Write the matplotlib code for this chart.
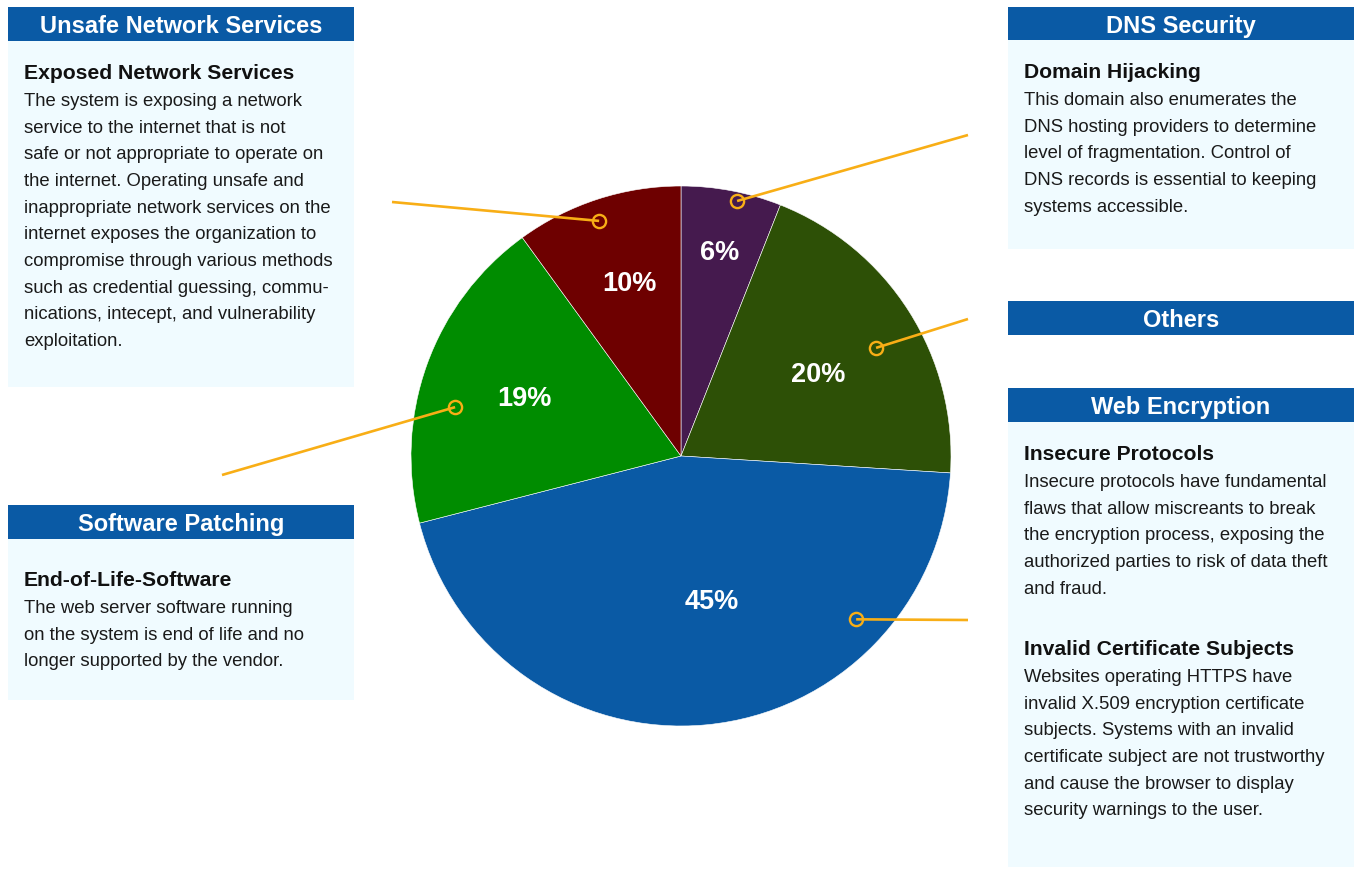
import numpy as np
import matplotlib
matplotlib.use("Agg")
import matplotlib.pyplot as plt
from matplotlib.patches import Rectangle

plt.rcParams["font.family"] = ["Liberation Sans", "DejaVu Sans"]

# ---- data -------------------------------------------------------------
categories = ["DNS Security", "Others", "Web Encryption",
              "Software Patching", "Unsafe Network Services"]
shares = [6, 20, 45, 19, 10]
pct_labels = ["6%", "20%", "45%", "19%", "10%"]
slice_colors = ["#451a4e", "#2d5006", "#0a5aa5", "#008c00", "#6e0000"]

# ---- styling ----------------------------------------------------------
W, H = 1356, 870
HEADER_BLUE = "#0a5aa5"
BODY_BG = "#f0fbff"
LEADER = "#f8ae16"
LINE_PITCH = 26.65

# label placement: radial fraction and angular nudge from the slice middle
label_dist = [0.77, 0.59, 0.55, 0.62, 0.67]
label_shift = [0.0, -1.6, 6.7, -0.6, -1.4]
# leader anchor inside each slice and the outer end of each leader
anchor_dist = [0.967, 0.826, 0.887, 0.856, 0.922]
anchor_shift = [-1.6, -3.4, 41.6, 7.6, 1.2]
leader_end = [(968, 136), (968, 320), (968, 621), (222, 476), (392, 203)]


def Y(y):
    return H - y


fig = plt.figure(figsize=(W / 100, H / 100), dpi=100)
ax = fig.add_axes([0, 0, 1, 1])

cx, cy, R = 681, Y(457), 270
wedges, _ = ax.pie(shares, colors=slice_colors, startangle=90,
                   counterclock=False, center=(cx, cy), radius=R,
                   wedgeprops=dict(edgecolor="#ffffff", linewidth=0.4))
ax.set_xlim(0, W)
ax.set_ylim(0, H)
ax.set_aspect("equal")
ax.axis("off")

for i, w in enumerate(wedges):
    mid = 0.5 * (w.theta1 + w.theta2)
    a = np.deg2rad(mid + label_shift[i])
    ax.text(cx + label_dist[i] * R * np.cos(a), cy + label_dist[i] * R * np.sin(a),
            pct_labels[i], color="white", fontsize=19.5, fontweight="bold",
            ha="center", va="center", zorder=5)
    b = np.deg2rad(mid + anchor_shift[i])
    px = cx + anchor_dist[i] * R * np.cos(b)
    py = cy + anchor_dist[i] * R * np.sin(b)
    ex, ey = leader_end[i]
    ax.plot([px, ex], [py, Y(ey)], color=LEADER, lw=1.9, zorder=6,
            solid_capstyle="butt")
    ax.plot([px], [py], marker="o", ms=9.5, mfc="none", mec=LEADER,
            mew=1.7, zorder=7)


def panel(x, top, w, header, header_h=34, body_bottom=None, sections=()):
    if body_bottom is not None:
        ax.add_patch(Rectangle((x, Y(body_bottom)), w, body_bottom - top,
                               facecolor=BODY_BG, edgecolor="none", zorder=1))
    ax.add_patch(Rectangle((x, Y(top + header_h)), w, header_h,
                           facecolor=HEADER_BLUE, edgecolor="none", zorder=2))
    ax.text(x + w / 2, Y(top + header_h / 2 + 1.5), header, color="white",
            fontsize=17, fontweight="bold", ha="center", va="center", zorder=3)
    for title, title_y, lines in sections:
        ax.text(x + 16, Y(title_y + 1.5), title, color="#111111", fontsize=15.2,
                fontweight="bold", ha="left", va="center", zorder=3)
        for k, line in enumerate(lines):
            ax.text(x + 16, Y(title_y + 29.5 + k * LINE_PITCH), line,
                    color="#1a1a1a", fontsize=13.3, ha="left", va="center",
                    zorder=3)


unsafe_lines = [
    "The system is exposing a network",
    "service to the internet that is not",
    "safe or not appropriate to operate on",
    "the internet. Operating unsafe and",
    "inappropriate network services on the",
    "internet exposes the organization to",
    "compromise through various methods",
    "such as credential guessing, commu-",
    "nications, intecept, and vulnerability",
    "exploitation.",
]
patching_lines = [
    "The web server software running",
    "on the system is end of life and no",
    "longer supported by the vendor.",
]
dns_lines = [
    "This domain also enumerates the",
    "DNS hosting providers to determine",
    "level of fragmentation. Control of",
    "DNS records is essential to keeping",
    "systems accessible.",
]
protocol_lines = [
    "Insecure protocols have fundamental",
    "flaws that allow miscreants to break",
    "the encryption process, exposing the",
    "authorized parties to risk of data theft",
    "and fraud.",
]
certificate_lines = [
    "Websites operating HTTPS have",
    "invalid X.509 encryption certificate",
    "subjects. Systems with an invalid",
    "certificate subject are not trustworthy",
    "and cause the browser to display",
    "security warnings to the user.",
]

panel(8, 8, 346, categories[4], body_bottom=388,
      sections=[("Exposed Network Services", 72, unsafe_lines)])
panel(8, 506, 346, categories[3], body_bottom=701,
      sections=[("End-of-Life-Software", 579, patching_lines)])
panel(1008, 8, 346, categories[0], header_h=33, body_bottom=250,
      sections=[("Domain Hijacking", 71, dns_lines)])
panel(1008, 302, 346, categories[1])
panel(1008, 389, 346, categories[2], body_bottom=868,
      sections=[("Insecure Protocols", 453, protocol_lines),
                ("Invalid Certificate Subjects", 648, certificate_lines)])

fig.savefig("out.png", dpi=100, facecolor="white")
